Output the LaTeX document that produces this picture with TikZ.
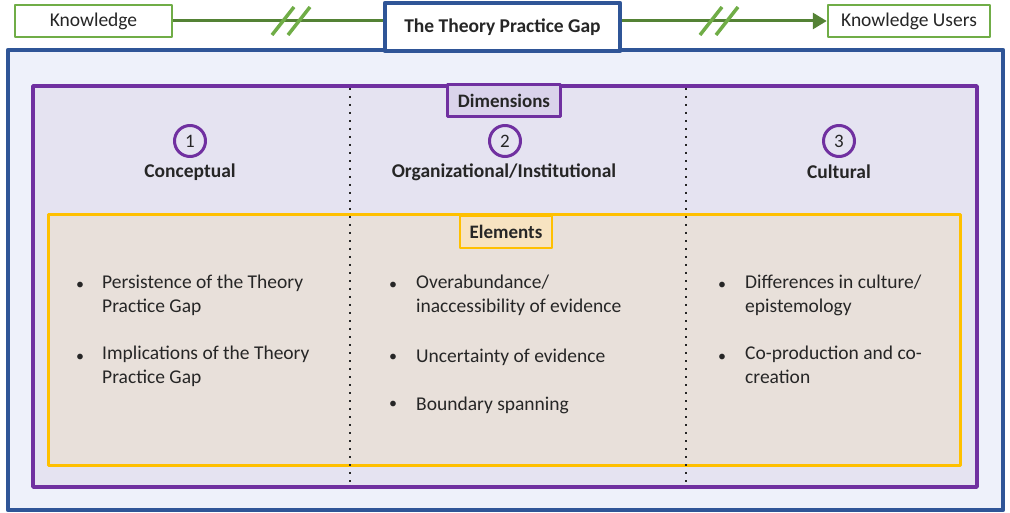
\documentclass[tikz,border=0pt]{standalone}
\usepackage{fontspec}
\setmainfont{Carlito}
\usetikzlibrary{arrows.meta}

\definecolor{leaf}{HTML}{70AD47}
\definecolor{leafdark}{HTML}{548235}
\definecolor{navy}{HTML}{2F5597}
\definecolor{paleblue}{HTML}{EEF1FA}
\definecolor{plum}{HTML}{7030A0}
\definecolor{plumfill}{HTML}{E5E3F1}
\definecolor{plumtag}{HTML}{DAD3EB}
\definecolor{amber}{HTML}{FFC000}
\definecolor{sand}{HTML}{E8E0DA}
\definecolor{amberfill}{HTML}{F7E3C1}
\definecolor{ink}{HTML}{262626}

\begin{document}
\begin{tikzpicture}[
  x=1pt, y=-1pt,
  line join=round,
  every node/.style={text=ink, font=\fontsize{19.5}{24}\selectfont},
  endbox/.style={draw=leaf, line width=2.5pt, fill=white, minimum height=32pt, inner sep=0pt},
  link/.style={leafdark, line width=3pt},
  slash/.style={leaf, line width=3.5pt},
  tag/.style={line width=3pt, inner sep=0pt, minimum height=32pt,
              font=\fontsize{19}{22}\selectfont\bfseries},
  dimlbl/.style={font=\fontsize{19.5}{22}\selectfont\bfseries},
  num/.style={circle, draw=plum, line width=3pt, minimum size=31pt, inner sep=0pt,
              font=\fontsize{19}{22}\selectfont},
  item/.style={anchor=north west, align=left, inner sep=0pt, execute at begin node=\strut},
  dot/.style={anchor=base, inner sep=0pt, font=\fontsize{16}{20}\selectfont},
  divider/.style={dash pattern=on 2pt off 6pt, line width=2pt, black!85},
]
\useasboundingbox (0,0) rectangle (1010,513);

% ── the frame round everything ────────────────────────────────────────────
\draw[navy, fill=paleblue, line width=4.5pt] (8,50) rectangle (1003,510);

% ── the dimensions box, three columns ─────────────────────────────────────
\draw[plum, fill=plumfill, line width=3.5pt] (33,86) rectangle (977,487);
\draw[amber, fill=sand, line width=3pt] (48,215) rectangle (960,465);
\draw[divider] (350,88) -- (350,487);
\draw[divider] (686,88) -- (686,487);

\node[tag, draw=plum, fill=plumtag, minimum width=113pt] (dims) at (504,101) {Dimensions};
\node[tag, draw=amber, fill=amberfill, minimum width=92pt, line width=2.5pt] (elems) at (506,232) {Elements};

% numbered heads
\node[num] (n1) at (190,141) {1};
\node[num] (n2) at (505,141) {2};
\node[num] (n3) at (839,141) {3};
\node[dimlbl] (concept) at (190,172) {Conceptual};
\node[dimlbl] (organ) at (504,172) {Organizational/Institutional};
\node[dimlbl] (cult) at (839,172) {Cultural};

% ── the elements, one list per column ─────────────────────────────────────
\node[dot] (b11) at (80,290) {\textbullet};
\node[item] (e11) at (102,275) {Persistence of the Theory\\Practice Gap};
\node[dot] (b12) at (80,361) {\textbullet};
\node[item] (e12) at (102,346) {Implications of the Theory\\Practice Gap};

\node[dot] (b21) at (393,290) {\textbullet};
\node[item] (e21) at (416,275) {Overabundance/\\inaccessibility of evidence};
\node[dot] (b22) at (393,361) {\textbullet};
\node[item] (e22) at (416,346) {Uncertainty of evidence};
\node[dot] (b23) at (393,408) {\textbullet};
\node[item] (e23) at (416,393) {Boundary spanning};

\node[dot] (b31) at (722,290) {\textbullet};
\node[item] (e31) at (745,275) {Differences in culture/\\epistemology};
\node[dot] (b32) at (722,361) {\textbullet};
\node[item] (e32) at (745,346) {Co-production and co-\\creation};

% ── knowledge across the gap ──────────────────────────────────────────────
\node[endbox, minimum width=157pt] (know) at (93.5,21) {Knowledge};
\node[draw=navy, line width=4.5pt, fill=white, minimum width=235pt, minimum height=48pt,
      inner sep=0pt, font=\fontsize{19.5}{22}\selectfont\bfseries] (gap) at (502.5,27) {The Theory Practice Gap};
\node[endbox, minimum width=162pt] (users) at (909,21) {Knowledge Users};

\draw[link] (know.east) -- (gap.west |- know.east);
\draw[link, -{Triangle[length=14pt, width=16pt]}] (gap.east |- users.west) -- (users.west);

% the two breaks in the line
\foreach \xx in {283,299} { \draw[slash] (\xx-11,35) -- (\xx+11,7); }
\foreach \xx in {711,727} { \draw[slash] (\xx-11,35) -- (\xx+11,7); }

\end{tikzpicture}
\end{document}
